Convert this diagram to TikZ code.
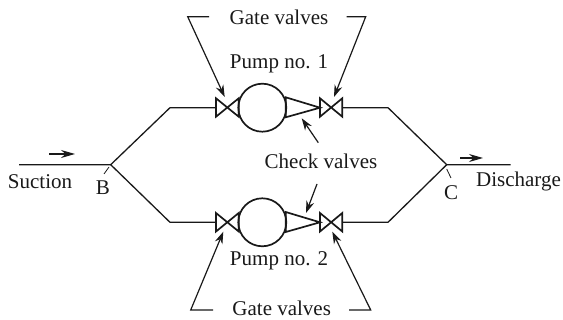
\documentclass[tikz,border=0pt]{standalone}
\usepackage{fontspec}
\setmainfont{Liberation Serif}
\usetikzlibrary{arrows.meta}
\tikzset{
    pipe/.style={line width=1.3pt, color=black!90},
    unit/.style={line width=1.7pt, color=black!90, line join=miter},
    leader/.style={line width=1.2pt, color=black!90, -{Stealth[length=12pt, width=8pt]}},
    flow/.style={line width=1.2pt, color=black!90, -{Stealth[length=14pt, width=8pt]}},
    tag/.style={inner sep=0pt, color=black!90, font=\fontsize{21}{24}\selectfont}
}
\begin{document}
\begin{tikzpicture}[x=1pt, y=-1pt]
    \useasboundingbox (0, 0) rectangle (563, 320);
    % pipe corners
    \coordinate (inlet) at (19, 164.7);
    \coordinate (B) at (110.7, 164.7);
    \coordinate (C) at (446.7, 164.7);
    \coordinate (outlet) at (510.7, 164.7);
    \coordinate (upleft) at (170, 107.7);
    \coordinate (upright) at (388, 107.7);
    \coordinate (lowleft) at (170, 222.3);
    \coordinate (lowright) at (388, 222.3);
    \coordinate (gate1a) at (216, 107.7);
    \coordinate (gate1b) at (342.3, 107.7);
    \coordinate (gate2a) at (216, 222.3);
    \coordinate (gate2b) at (342.3, 222.3);
    % pipes
    \draw[pipe] (inlet) -- (B) -- (upleft) -- (gate1a);
    \draw[pipe] (B) -- (lowleft) -- (gate2a);
    \draw[pipe] (outlet) -- (C) -- (upright) -- (gate1b);
    \draw[pipe] (C) -- (lowright) -- (gate2b);
    % pump no. 1 with its valves
    \draw[unit] (262.3, 107.7) circle (24);
    \draw[unit] (216, 98.3) -- (238.7, 116.7) -- (238.7, 98.3) -- (216, 116.7) -- cycle;
    \draw[unit] (320, 98.3) -- (342.3, 116.7) -- (342.3, 98.3) -- (320, 116.7) -- cycle;
    \draw[unit] (285.7, 97.3) -- (320, 107.7) -- (285.7, 117.3) -- cycle;
    % pump no. 2 with its valves
    \draw[unit] (262.3, 222.3) circle (24);
    \draw[unit] (216, 213) -- (238.7, 231.5) -- (238.7, 213) -- (216, 231.5) -- cycle;
    \draw[unit] (320, 213) -- (342.3, 231.5) -- (342.3, 213) -- (320, 231.5) -- cycle;
    \draw[unit] (285.7, 212) -- (320, 222.3) -- (285.7, 232) -- cycle;
    % labels
    \node[tag] (gatetop) at (279, 17) {Gate valves};
    \node[tag] (pump1) at (279, 64) {Pump no. 1};
    \node[tag] (check) at (321, 161) {Check valves};
    \node[tag] (pump2) at (279, 261) {Pump no. 2};
    \node[tag] (gatebot) at (281.7, 308.5) {Gate valves};
    \node[tag] (suction) at (40, 181.5) {Suction};
    \node[tag] (labelB) at (103, 188) {B};
    \node[tag] (discharge) at (518.5, 181) {Discharge};
    \node[tag] (labelC) at (451, 192.5) {C};
    % leaders to the gate valves
    \coordinate (tla) at (209, 16.7);
    \coordinate (tlb) at (187.7, 16.7);
    \coordinate (tlc) at (224.7, 97);
    \coordinate (tra) at (346.7, 16.7);
    \coordinate (trb) at (365.7, 16.7);
    \coordinate (trc) at (334, 97);
    \coordinate (bla) at (213, 310);
    \coordinate (blb) at (190.7, 310);
    \coordinate (blc) at (223.3, 231.7);
    \coordinate (bra) at (349, 310);
    \coordinate (brb) at (370.7, 310);
    \coordinate (brc) at (332.3, 231.7);
    \draw[leader] (tla) -- (tlb) -- (tlc);
    \draw[leader] (tra) -- (trb) -- (trc);
    \draw[leader] (bla) -- (blb) -- (blc);
    \draw[leader] (bra) -- (brb) -- (brc);
    % leaders to the check valves
    \coordinate (cua) at (318.3, 142.7);
    \coordinate (cub) at (301.7, 118.3);
    \coordinate (cla) at (317, 184);
    \coordinate (clb) at (306, 213);
    \draw[leader] (cua) -- (cub);
    \draw[leader] (cla) -- (clb);
    % flow arrows
    \coordinate (fla) at (49, 154);
    \coordinate (flb) at (75, 154);
    \coordinate (fra) at (460, 158);
    \coordinate (frb) at (483, 158);
    \draw[flow] (fla) -- (flb);
    \draw[flow] (fra) -- (frb);
    % ticks at the junctions
    \coordinate (tba) at (109, 167);
    \coordinate (tbb) at (104, 174);
    \coordinate (tca) at (446.7, 169);
    \coordinate (tcb) at (451, 178);
    \draw[pipe, line width=0.8pt] (tba) -- (tbb);
    \draw[pipe, line width=0.8pt] (tca) -- (tcb);
\end{tikzpicture}
\end{document}
